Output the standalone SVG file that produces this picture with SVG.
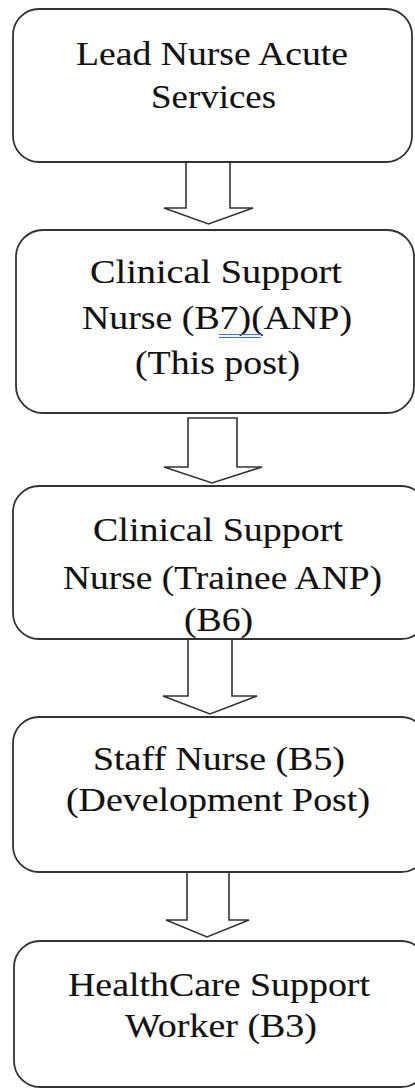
<svg xmlns="http://www.w3.org/2000/svg" width="415" height="1089" viewBox="0 0 415 1089">
<style>
.box{fill:#fff;stroke:#333;stroke-width:1.8}
.arr{fill:#fff;stroke:#333;stroke-width:1.6;stroke-linejoin:miter}
.t{font-family:"Liberation Serif","Times New Roman",serif;font-size:33px;fill:#111;stroke:#111;stroke-width:0.12}
.ul{stroke:#3f74d6;stroke-width:1}
</style>
<rect width="415" height="1089" fill="#fff"/>
<g id="connectors">
<polygon class="arr" points="186,162 230,162 230,208 253,208 208.5,224 164,208 186,208"/>
<polygon class="arr" points="188,418 237,418 237,467 262,467 212,483 164,467 188,467"/>
<polygon class="arr" points="188,639 232,639 232,696 257,696 210,714 163,696 188,696"/>
<polygon class="arr" points="187,872 229,872 229,920 249,920 207,937 166,920 187,920"/>
</g>
<g id="node1">
<rect class="box" x="13" y="9" width="399" height="153" rx="26"/>
<text class="t" x="76" y="65" textLength="272" lengthAdjust="spacingAndGlyphs">Lead Nurse Acute</text>
<text class="t" x="151" y="108" textLength="125" lengthAdjust="spacingAndGlyphs">Services</text>
</g>
<g id="node2">
<rect class="box" x="16" y="230" width="398" height="183" rx="27"/>
<text class="t" x="90" y="283" textLength="252" lengthAdjust="spacingAndGlyphs">Clinical Support</text>
<text class="t" x="82" y="329" textLength="270" lengthAdjust="spacingAndGlyphs">Nurse (B7)(ANP)</text>
<line class="ul" x1="219" y1="334.5" x2="261" y2="334.5"/>
<line class="ul" x1="219" y1="337.5" x2="261" y2="337.5"/>
<text class="t" x="135" y="374" textLength="165" lengthAdjust="spacingAndGlyphs">(This post)</text>
</g>
<g id="node3">
<rect class="box" x="13" y="486" width="414" height="153" rx="26"/>
<text class="t" x="93" y="541" textLength="250" lengthAdjust="spacingAndGlyphs">Clinical Support</text>
<text class="t" x="63" y="589" textLength="319" lengthAdjust="spacingAndGlyphs">Nurse (Trainee ANP)</text>
<text class="t" x="184" y="631" textLength="69" lengthAdjust="spacingAndGlyphs">(B6)</text>
</g>
<g id="node4">
<rect class="box" x="13" y="717" width="414" height="155" rx="26"/>
<text class="t" x="93" y="770" textLength="252" lengthAdjust="spacingAndGlyphs">Staff Nurse (B5)</text>
<text class="t" x="66" y="811" textLength="304" lengthAdjust="spacingAndGlyphs">(Development Post)</text>
</g>
<g id="node5">
<rect class="box" x="14" y="941" width="413" height="146" rx="26"/>
<text class="t" x="68" y="996" textLength="302" lengthAdjust="spacingAndGlyphs">HealthCare Support</text>
<text class="t" x="125" y="1037" textLength="192" lengthAdjust="spacingAndGlyphs">Worker (B3)</text>
</g>
</svg>
